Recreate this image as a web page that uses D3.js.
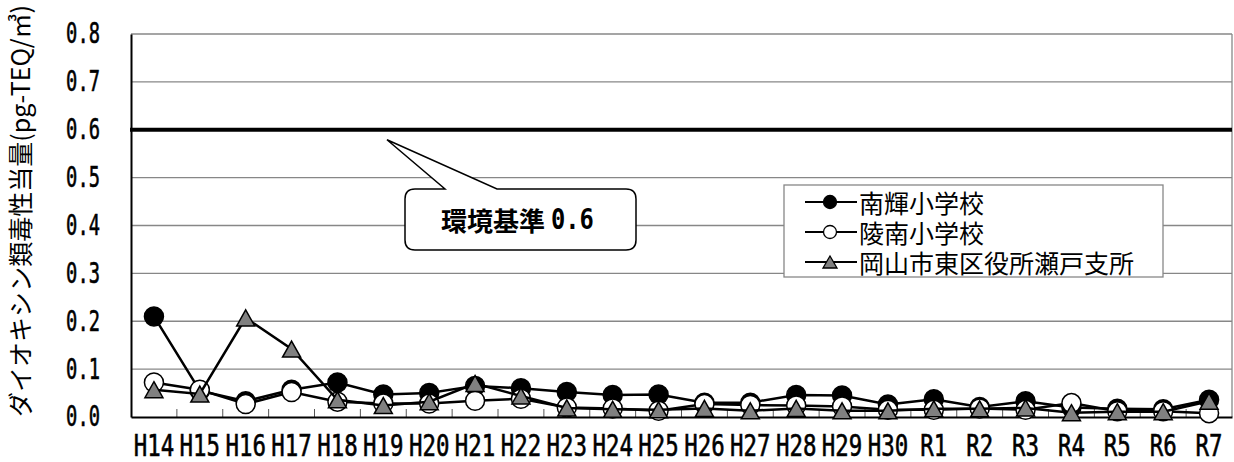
<!DOCTYPE html>
<html lang="ja">
<head>
<meta charset="utf-8">
<script src="https://cdn.jsdelivr.net/npm/d3@7"></script>
<style>
    body { margin: 0; background: #fff; }
    #chart-area { width: 1234px; height: 462px; }
    .jp { font-family: "Noto Sans CJK JP", sans-serif; }
    .mono { font-family: "DejaVu Sans Mono", monospace; }
</style>
</head>
<body>
<div id="chart-area"></div>
<script>

// fiscal years (Heisei / Reiwa)
const years = ["H14", "H15", "H16", "H17", "H18", "H19", "H20", "H21", "H22", "H23", "H24", "H25",
    "H26", "H27", "H28", "H29", "H30", "R1", "R2", "R3", "R4", "R5", "R6", "R7"];

// pg-TEQ/m3
const nankiValues = [0.21, 0.055, 0.033, 0.057, 0.072, 0.047, 0.05, 0.065, 0.06, 0.052, 0.046, 0.047,
    0.03, 0.03, 0.046, 0.045, 0.026, 0.037, 0.021, 0.033, 0.02, 0.017, 0.016, 0.036];
const ryonanValues = [0.072, 0.057, 0.027, 0.052, 0.032, 0.028, 0.028, 0.034, 0.038, 0.02, 0.018, 0.013,
    0.027, 0.025, 0.024, 0.022, 0.015, 0.015, 0.018, 0.015, 0.029, 0.012, 0.012, 0.008];
const setoValues = [0.057, 0.048, 0.207, 0.142, 0.036, 0.024, 0.032, 0.07, 0.044, 0.019, 0.016, 0.015,
    0.018, 0.013, 0.018, 0.013, 0.013, 0.017, 0.017, 0.019, 0.009, 0.011, 0.011, 0.033];

const seriesNames = ["南輝小学校", "陵南小学校", "岡山市東区役所瀬戸支所"];
const yTicks = [0, 0.1, 0.2, 0.3, 0.4, 0.5, 0.6, 0.7, 0.8];
const standardValue = 0.6;
const standardLabel = "環境基準";
const yTitle = "ダイオキシン類毒性当量(pg-TEQ/㎥)";


class DioxinVis {

    constructor(parentElement) {
        this.parentElement = parentElement;
        this.series = [
            {name: seriesNames[0], values: nankiValues, marker: "circle", fill: "#000"},
            {name: seriesNames[1], values: ryonanValues, marker: "circle", fill: "#fff"},
            {name: seriesNames[2], values: setoValues, marker: "triangle", fill: "#808080"}
        ];
        this.initVis();
    }

    triPath(w, h) {
        return `M0,${-h / 2}L${w / 2},${h / 2}L${-w / 2},${h / 2}Z`;
    }

    initVis() {
        let vis = this;

        vis.margin = {top: 34, right: 2, bottom: 45, left: 131};
        vis.width = 1234 - vis.margin.left - vis.margin.right;
        vis.height = 462 - vis.margin.top - vis.margin.bottom;

        vis.root = d3.select("#" + vis.parentElement).append("svg")
            .attr("width", 1234)
            .attr("height", 462);

        vis.svg = vis.root.append("g")
            .attr("transform", `translate(${vis.margin.left},${vis.margin.top})`);

        // scales
        vis.x = d3.scaleBand()
            .domain(years)
            .range([0, vis.width])
            .padding(0);
        vis.y = d3.scaleLinear()
            .domain([0, 0.8])
            .range([vis.height, 0]);

        vis.updateVis();
    }

    updateVis() {
        let vis = this;
        const bw = vis.x.bandwidth();
        const cx = (i) => vis.x(years[i]) + bw / 2;

        // gridlines + right border
        vis.svg.selectAll(".grid")
            .data(yTicks.filter(d => d > 0))
            .enter().append("line")
            .attr("class", "grid")
            .attr("x1", 0).attr("x2", vis.width)
            .attr("y1", d => vis.y(d)).attr("y2", d => vis.y(d))
            .attr("stroke", "#878787")
            .attr("stroke-width", 1.3);

        vis.svg.append("line")
            .attr("x1", vis.width).attr("x2", vis.width)
            .attr("y1", 0).attr("y2", vis.height)
            .attr("stroke", "#878787")
            .attr("stroke-width", 1.3);

        // inward category ticks
        vis.svg.selectAll(".cat-tick")
            .data(years.slice(1))
            .enter().append("line")
            .attr("class", "cat-tick")
            .attr("x1", d => vis.x(d)).attr("x2", d => vis.x(d))
            .attr("y1", vis.height - 8).attr("y2", vis.height)
            .attr("stroke", "#555")
            .attr("stroke-width", 1);

        // y axis - narrow monospace look, squeezed horizontally
        const ySx = 0.67;
        let yAxis = d3.axisLeft(vis.y)
            .tickValues(yTicks)
            .tickFormat(d3.format(".1f"))
            .tickSize(0)
            .tickPadding(31);
        let yg = vis.svg.append("g").attr("class", "y-axis axis").call(yAxis);
        yg.select(".domain").attr("stroke", "#000").attr("stroke-width", 2);
        yg.selectAll("text")
            .attr("class", "mono")
            .attr("font-size", 28)
            .attr("fill", "#000")
            .attr("stroke", "#000")
            .attr("stroke-width", 0.6)
            .attr("x", -31 / ySx)
            .attr("transform", `scale(${ySx},1)`);

        // x axis
        const xSx = 0.76;
        let xAxis = d3.axisBottom(vis.x)
            .tickSize(0)
            .tickPadding(18);
        let xg = vis.svg.append("g")
            .attr("class", "x-axis axis")
            .attr("transform", `translate(0, ${vis.height})`)
            .call(xAxis);
        xg.select(".domain").attr("stroke", "#000").attr("stroke-width", 2);
        xg.selectAll("text")
            .attr("class", "mono")
            .attr("font-size", 29.5)
            .attr("fill", "#000")
            .attr("stroke", "#000")
            .attr("stroke-width", 0.6)
            .attr("transform", `scale(${xSx},1)`);

        // environmental standard line
        vis.svg.append("line")
            .attr("x1", -1).attr("x2", vis.width)
            .attr("y1", vis.y(standardValue)).attr("y2", vis.y(standardValue))
            .attr("stroke", "#000")
            .attr("stroke-width", 4);

        // series
        const line = d3.line()
            .x((d, i) => cx(i))
            .y(d => vis.y(d));

        vis.series.forEach(s => {
            vis.svg.append("path")
                .datum(s.values)
                .attr("d", line)
                .attr("fill", "none")
                .attr("stroke", "#000")
                .attr("stroke-width", 2.5);

            if (s.marker === "circle") {
                vis.svg.selectAll(null)
                    .data(s.values)
                    .enter().append("circle")
                    .attr("cx", (d, i) => cx(i))
                    .attr("cy", d => vis.y(d))
                    .attr("r", 9.5)
                    .attr("fill", s.fill)
                    .attr("stroke", "#000")
                    .attr("stroke-width", 1.5);
            } else {
                vis.svg.selectAll(null)
                    .data(s.values)
                    .enter().append("path")
                    .attr("d", vis.triPath(18, 16))
                    .attr("transform", (d, i) => `translate(${cx(i)},${vis.y(d)})`)
                    .attr("fill", s.fill)
                    .attr("stroke", "#000")
                    .attr("stroke-width", 1.5);
            }
        });

        // y title
        vis.root.append("text")
            .attr("class", "jp")
            .attr("transform", "translate(19,417) rotate(-90)")
            .attr("text-anchor", "start")
            .attr("dominant-baseline", "central")
            .attr("font-size", 25)
            .attr("textLength", 412)
            .attr("lengthAdjust", "spacing")
            .text(yTitle);

        // callout for the standard
        const L = 405, T = 189, R = 636, B = 250, r = 10;
        const tipX = 387, tipY = vis.margin.top + vis.y(standardValue) + 10;
        vis.root.append("path")
            .attr("d", `M${L + r},${T}L445,${T}L${tipX},${tipY}L497,${T}L${R - r},${T}Q${R},${T} ${R},${T + r}` +
                `L${R},${B - r}Q${R},${B} ${R - r},${B}L${L + r},${B}Q${L},${B} ${L},${B - r}` +
                `L${L},${T + r}Q${L},${T} ${L + r},${T}Z`)
            .attr("fill", "#fff")
            .attr("stroke", "#000")
            .attr("stroke-width", 1.5);
        vis.root.append("text")
            .attr("class", "jp")
            .attr("x", 441).attr("y", 219)
            .attr("dominant-baseline", "central")
            .attr("font-size", 26)
            .attr("font-weight", "bold")
            .text(standardLabel);
        const cSx = 0.82;
        vis.root.append("text")
            .attr("class", "mono")
            .attr("x", 551 / cSx).attr("y", 219)
            .attr("dy", "0.36em")
            .attr("font-size", 29)
            .attr("font-weight", "bold")
            .attr("transform", `scale(${cSx},1)`)
            .text(d3.format(".1f")(standardValue));

        // legend
        let legend = vis.root.append("g").attr("class", "legend");
        legend.append("rect")
            .attr("x", 784).attr("y", 185)
            .attr("width", 379).attr("height", 92)
            .attr("fill", "#fff")
            .attr("stroke", "#878787")
            .attr("stroke-width", 1.3);

        vis.series.forEach((s, i) => {
            const ly = 202 + i * 30;
            let row = legend.append("g").attr("transform", `translate(830, ${ly})`);
            row.append("line")
                .attr("x1", -25).attr("x2", 27)
                .attr("stroke", "#000")
                .attr("stroke-width", 2);
            if (s.marker === "circle") {
                row.append("circle")
                    .attr("r", 6.5)
                    .attr("fill", s.fill)
                    .attr("stroke", "#000")
                    .attr("stroke-width", 1.3);
            } else {
                row.append("path")
                    .attr("d", vis.triPath(14, 12))
                    .attr("fill", s.fill)
                    .attr("stroke", "#000")
                    .attr("stroke-width", 1.3);
            }
            row.append("text")
                .attr("class", "jp")
                .attr("x", 29)
                .attr("dominant-baseline", "central")
                .attr("font-size", 25)
                .text(s.name);
        });
    }
}

new DioxinVis("chart-area");

</script>
</body>
</html>
